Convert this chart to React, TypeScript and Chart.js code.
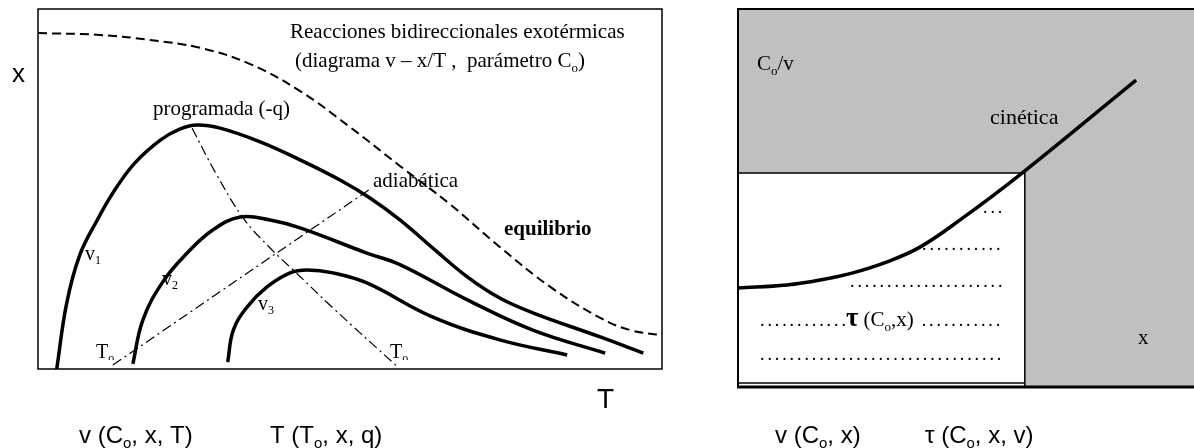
import React, { useEffect, useRef } from 'react';
import { Chart, registerables } from 'chart.js';

Chart.register(...registerables);

const SERIF = '"Liberation Serif", "Times New Roman", serif';
const SANS = '"Liberation Sans", Arial, sans-serif';

// ---- Left panel: v – x/T diagram (T and x in relative units 0..100) ----
const equilibrioT = [0, 9.9, 17.9, 26.0, 34.0, 42.0, 50.0, 58.0, 66.0, 74.0, 82.1, 90.1, 94.9, 100];
const equilibrioX = [93.3, 92.8, 91.4, 89.2, 84.7, 77.2, 67.2, 56.4, 45.8, 33.9, 22.8, 14.2, 10.8, 9.4];

const v1T = [3.0, 4.6, 6.7, 9.5, 12.3, 15.5, 19.6, 22.8, 25.5, 29.2, 35.6, 42.0, 48.4, 53.2, 58.0, 63.6, 68.8, 74.0, 79.3, 90.1, 97.0];
const v1X = [0, 18.3, 31.7, 41.4, 49.7, 57.2, 63.6, 66.7, 67.8, 66.9, 63.1, 58.1, 52.5, 47.5, 41.4, 33.1, 25.6, 19.7, 15.6, 8.9, 4.4];

const v2T = [15.2, 16.8, 20.0, 23.9, 28.0, 32.4, 37.2, 42.0, 52.7, 58.0, 68.8, 79.3, 90.9];
const v2X = [1.4, 13.6, 24.2, 32.2, 38.6, 42.2, 41.4, 39.2, 32.2, 29.0, 19.2, 10.8, 4.4];

const v3T = [30.4, 31.3, 33.5, 36.7, 40.4, 43.1, 47.3, 52.7, 63.3, 74.0, 84.8];
const v3X = [1.9, 10.8, 17.2, 22.8, 26.7, 27.5, 26.7, 23.9, 14.4, 8.1, 3.9];

const programadaT = [24.7, 28.4, 32.9, 37.2, 40.9, 47.3, 57.5];
const programadaX = [66.9, 54.7, 41.9, 33.6, 27.5, 16.9, 0.8];

const adiabaticaT = [12.0, 53.5];
const adiabaticaX = [1.1, 50.3];

// ---- Right panel: C_o/v – x diagram ----
const cineticaX = [0, 10.7, 18.0, 25.2, 32.7, 39.9, 48.7, 62.3, 87.3];
const cineticaY = [26.2, 27.0, 28.3, 30.2, 33.1, 37.0, 44.2, 56.6, 81.2];

const boxX = [0, 62.9, 62.9];
const boxY = [56.6, 56.6, 0];
const boxBottomX = [0, 62.9];
const boxBottomY = [1.06, 1.06];

const pts = (xs: number[], ys: number[]) => xs.map((x, i) => ({ x, y: ys[i] }));

type Part = [string, boolean];

function drawRich(ctx: CanvasRenderingContext2D, x: number, y: number, parts: Part[], size: number, family: string, weight = 'normal') {
  let cx = x;
  for (const [t, sub] of parts) {
    if (sub) {
      ctx.font = `${weight} ${Math.round(size * 0.62)}px ${family}`;
      ctx.fillText(t, cx, y + size * 0.22);
    } else {
      ctx.font = `${weight} ${size}px ${family}`;
      ctx.fillText(t, cx, y);
    }
    cx += ctx.measureText(t).width;
  }
  return cx;
}

function drawDots(ctx: CanvasRenderingContext2D, x1: number, x2: number, y: number) {
  ctx.font = `normal 18px ${SERIF}`;
  const step = 7.4;
  const n = Math.round((x2 - x1) / step);
  for (let i = 0; i <= n; i++) ctx.fillText('.', x1 + i * step, y);
}

const leftDecor = {
  id: 'leftDecor',
  afterDraw(chart: any) {
    const ctx: CanvasRenderingContext2D = chart.ctx;
    const a = chart.chartArea;
    ctx.save();
    ctx.strokeStyle = '#000';
    ctx.lineWidth = 1.5;
    ctx.strokeRect(a.left, a.top, a.right - a.left, a.bottom - a.top);
    ctx.fillStyle = '#000';
    ctx.textBaseline = 'alphabetic';

    ctx.font = `normal 26px ${SANS}`;
    ctx.fillText('x', 12, 82);
    ctx.font = `normal 28px ${SANS}`;
    ctx.fillText('T', 597, 408);

    drawRich(ctx, 79, 443, [['v (C', false], ['o', true], [', x, T)', false]], 24, SANS);
    drawRich(ctx, 270, 443, [['T (T', false], ['o', true], [', x, q)', false]], 24, SANS);

    ctx.font = `normal 21px ${SERIF}`;
    ctx.fillText('Reacciones bidireccionales exotérmicas', 290, 38);
    drawRich(ctx, 295, 67, [['(diagrama v – x/T ,  parámetro C', false], ['o', true], [')', false]], 21, SERIF);
    ctx.font = `normal 21px ${SERIF}`;
    ctx.fillText('programada (-q)', 153, 115);
    ctx.fillText('adiabática', 373, 187);
    ctx.font = `bold 21px ${SERIF}`;
    ctx.fillText('equilibrio', 504, 235);

    drawRich(ctx, 85, 260, [['v', false], ['1', true]], 20, SERIF);
    drawRich(ctx, 162, 285, [['v', false], ['2', true]], 20, SERIF);
    drawRich(ctx, 258, 310, [['v', false], ['3', true]], 20, SERIF);

    ctx.save();
    ctx.beginPath();
    ctx.rect(0, 0, chart.width, 360);
    ctx.clip();
    drawRich(ctx, 96, 358, [['T', false], ['o', true]], 20, SERIF);
    drawRich(ctx, 390, 358, [['T', false], ['o', true]], 20, SERIF);
    ctx.restore();
    ctx.restore();
  },
};

const rightDecor = {
  id: 'rightDecor',
  beforeDatasetsDraw(chart: any) {
    const ctx: CanvasRenderingContext2D = chart.ctx;
    const a = chart.chartArea;
    ctx.save();
    ctx.fillStyle = '#c0c0c0';
    ctx.fillRect(a.left, a.top, a.right - a.left, a.bottom - a.top);
    ctx.restore();
  },
  afterDraw(chart: any) {
    const ctx: CanvasRenderingContext2D = chart.ctx;
    const a = chart.chartArea;
    ctx.save();
    ctx.strokeStyle = '#000';
    ctx.lineWidth = 2;
    ctx.beginPath();
    ctx.moveTo(a.right + 2, a.top);
    ctx.lineTo(a.left, a.top);
    ctx.lineTo(a.left, a.bottom);
    ctx.stroke();
    ctx.lineWidth = 3;
    ctx.beginPath();
    ctx.moveTo(a.left - 1, a.bottom);
    ctx.lineTo(a.right + 2, a.bottom);
    ctx.stroke();

    ctx.translate(-700, 0);
    ctx.fillStyle = '#000';
    ctx.textBaseline = 'alphabetic';
    drawRich(ctx, 757, 70, [['C', false], ['o', true], ['/v', false]], 21, SERIF);
    ctx.font = `normal 22px ${SERIF}`;
    ctx.fillText('cinética', 990, 124);
    ctx.font = `normal 21px ${SERIF}`;
    ctx.fillText('x', 1138, 344);

    drawDots(ctx, 983, 998, 213);
    drawDots(ctx, 922, 995, 250);
    drawDots(ctx, 850, 995, 287);
    drawDots(ctx, 760, 842, 326);
    let cx = drawRich(ctx, 846, 326, [['τ', false]], 27, SERIF, 'bold');
    cx = drawRich(ctx, cx + 5, 326, [['(C', false], ['o', true], [',x)', false]], 21, SERIF);
    drawDots(ctx, cx + 8, 997, 326);
    drawDots(ctx, 760, 997, 360);

    drawRich(ctx, 775, 443, [['v (C', false], ['o', true], [', x)', false]], 24, SANS);
    drawRich(ctx, 925, 443, [['τ (C', false], ['o', true], [', x, v)', false]], 24, SANS);
    ctx.restore();
  },
};

const baseOptions = (padding: any, xMax: number) => ({
  responsive: false,
  animation: false as const,
  events: [] as any[],
  layout: { padding },
  plugins: { legend: { display: false }, tooltip: { enabled: false }, title: { display: false } },
  elements: { point: { radius: 0 } },
  scales: {
    x: { type: 'linear' as const, min: 0, max: xMax, display: false },
    y: { type: 'linear' as const, min: 0, max: 100, display: false },
  },
});

export default function App() {
  const leftRef = useRef<HTMLCanvasElement>(null);
  const rightRef = useRef<HTMLCanvasElement>(null);

  useEffect(() => {
    const thick = { borderColor: '#000', borderWidth: 3.5, showLine: true, fill: false, tension: 0.4, borderCapStyle: 'butt' as const };
    const dashDot = { borderColor: '#000', borderWidth: 1.2, showLine: true, fill: false, borderDash: [10, 4, 2, 4], tension: 0.4 };
    const left = new Chart(leftRef.current!, {
      type: 'scatter',
      data: {
        datasets: [
          { label: 'equilibrio', data: pts(equilibrioT, equilibrioX), borderColor: '#000', borderWidth: 2, borderDash: [9, 5], showLine: true, fill: false, tension: 0.4 },
          { label: 'v1', data: pts(v1T, v1X), ...thick },
          { label: 'v2', data: pts(v2T, v2X), ...thick },
          { label: 'v3', data: pts(v3T, v3X), ...thick },
          { label: 'programada (-q)', data: pts(programadaT, programadaX), ...dashDot },
          { label: 'adiabática', data: pts(adiabaticaT, adiabaticaX), ...dashDot },
        ] as any,
      },
      options: baseOptions({ left: 38, top: 9, right: 38, bottom: 79 }, 100) as any,
      plugins: [leftDecor],
    });

    const right = new Chart(rightRef.current!, {
      type: 'scatter',
      data: {
        datasets: [
          { label: 'τ', data: pts(boxX, boxY), borderColor: '#000', borderWidth: 1.5, backgroundColor: '#ffffff', showLine: true, fill: 'origin', tension: 0, order: 3 },
          { label: 'base', data: pts(boxBottomX, boxBottomY), borderColor: '#000', borderWidth: 1.5, showLine: true, fill: false, order: 2 },
          { label: 'cinética', data: pts(cineticaX, cineticaY), borderColor: '#000', borderWidth: 3.5, showLine: true, fill: false, tension: 0.4, order: 0 },
        ] as any,
      },
      options: baseOptions({ left: 38, top: 9, right: 0, bottom: 61 }, 100) as any,
      plugins: [rightDecor],
    });

    return () => {
      left.destroy();
      right.destroy();
    };
  }, []);

  return (
    <div style={{ position: 'absolute', left: 0, top: 0, width: 1194, height: 448, background: '#fff', overflow: 'hidden' }}>
      <canvas ref={leftRef} width={700} height={448} style={{ position: 'absolute', left: 0, top: 0, width: 700, height: 448 }} />
      <canvas ref={rightRef} width={494} height={448} style={{ position: 'absolute', left: 700, top: 0, width: 494, height: 448 }} />
    </div>
  );
}
